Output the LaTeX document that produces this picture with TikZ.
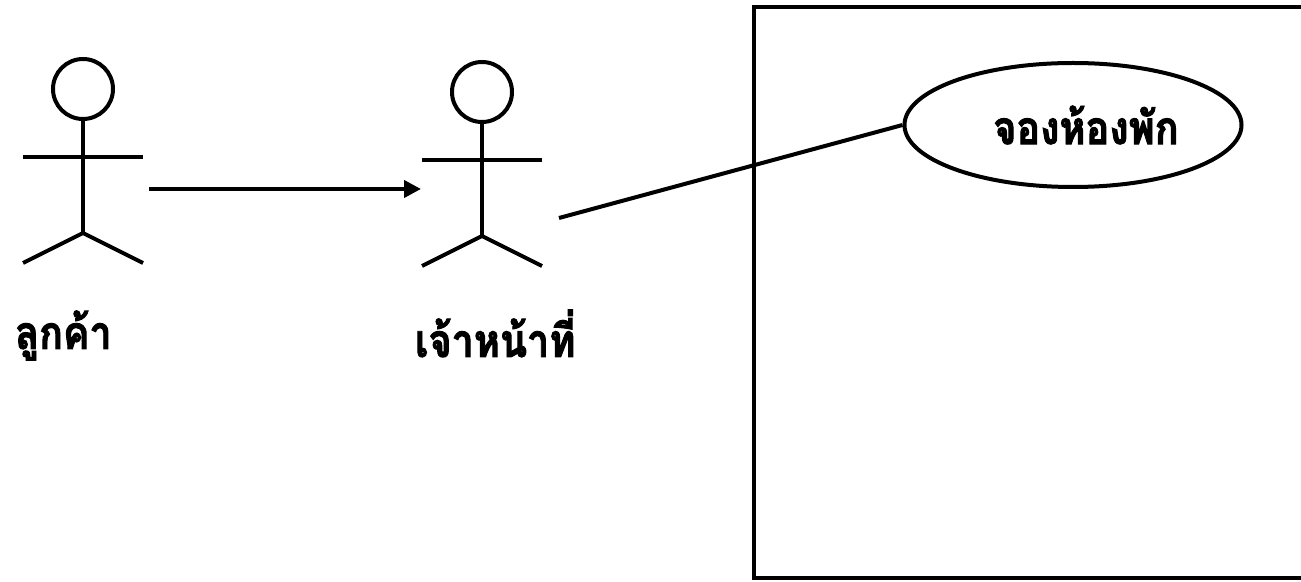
\documentclass[tikz,border=0pt]{standalone}
\usepackage{fontspec}
\newfontfamily\thaifont[Script=Thai, FakeStretch=0.86, BoldFeatures={FakeBold=2}]{Loma}
\usetikzlibrary{arrows.meta, shapes.geometric}

\begin{document}
\begin{tikzpicture}[
  x=0.5pt, y=-0.5pt,
  line width=2pt,
  thai/.style={font=\thaifont\bfseries\fontsize{23pt}{27pt}\selectfont},
  lab/.style={thai, inner sep=0pt, anchor=base west},
  usecase/.style={thai, draw, ellipse, inner sep=0pt, minimum width=168.5pt, minimum height=62pt},
  arr/.style={-{Triangle[length=8.5pt, width=8.5pt]}},
  actor/.pic={
    \draw (0,0) circle (15pt);
    \draw (0,31) -- (0,144);
    \draw (-60,68) -- (60,68);
    \draw (-60,174) -- (0,144) -- (60,174);
  },
]
\useasboundingbox (0,0) rectangle (1301,582);

% ---------------------------------------------------------------
% actors
% ---------------------------------------------------------------
\pic (cust) at (83,89) {actor};
\pic (staff) at (482,92) {actor};
\node[lab] (custlab) at (13,349) {ลูกค้า};
\node[lab] (stafflab) at (413,357) {เจ้าหน้าที่};

% ---------------------------------------------------------------
% system boundary and use case
% ---------------------------------------------------------------
\draw (1301,7) -- (754,7) -- (754,578) -- (1301,578);
\node[usecase] (book) at (1073,125) {\hspace*{13pt}จองห้องพัก};

% connectors
\coordinate (custR) at (149,189);
\coordinate (staffL) at (421,189);
\coordinate (staffR) at (559,218);
\draw[arr] (custR) -- (staffL);
\draw (staffR) -- (book.west);

\end{tikzpicture}
\end{document}
